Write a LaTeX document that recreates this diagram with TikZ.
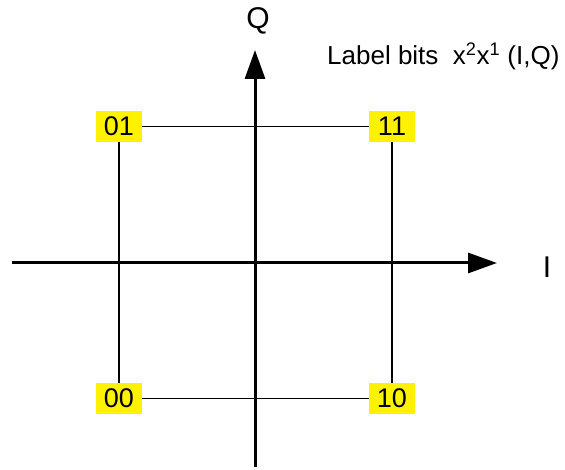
\documentclass[tikz,border=0pt]{standalone}
\usepackage{fontspec}
\setmainfont{Liberation Sans}
\usetikzlibrary{arrows.meta}
\begin{document}
\begin{tikzpicture}[x=1pt, y=-1pt]
        \tikzstyle{bits} = [fill=yellow, minimum width=46pt, minimum height=31pt, inner sep=0pt, font=\fontsize{27}{32}\selectfont]
        \tikzstyle{axis} = [line width=3pt, -{Triangle[length=29pt, width=20pt]}]
        \useasboundingbox (0,0) rectangle (565,470);
        \node[bits] (b01) at (119, 126.5) {01};
        \node[bits] (b11) at (392, 126.5) {11};
        \node[bits] (b00) at (119, 398.5) {00};
        \node[bits] (b10) at (392, 398.5) {10};
        \draw[line width=1.5pt] (b01) -- (b11);
        \draw[line width=1.5pt] (b00) -- (b10);
        \draw[line width=1.5pt] (b01) -- (b00);
        \draw[line width=1.5pt] (b11) -- (b10);
        \coordinate (Ilo) at (12, 263);
        \coordinate (Ihi) at (497, 263);
        \coordinate (Qlo) at (255, 467);
        \coordinate (Qhi) at (255, 50);
        \draw[axis] (Ilo) -- (Ihi);
        \draw[axis] (Qlo) -- (Qhi);
        \node[font=\fontsize{30}{34}\selectfont] (Q) at (258, 21) {Q};
        \node[font=\fontsize{30}{34}\selectfont] (I) at (547, 267) {I};
        \node[anchor=west, inner sep=0pt, font=\fontsize{26}{30}\selectfont] (lbl) at (327, 56) {Label bits\ \ x\textsuperscript{2}x\textsuperscript{1} (I,Q)};
      \end{tikzpicture}
\end{document}
